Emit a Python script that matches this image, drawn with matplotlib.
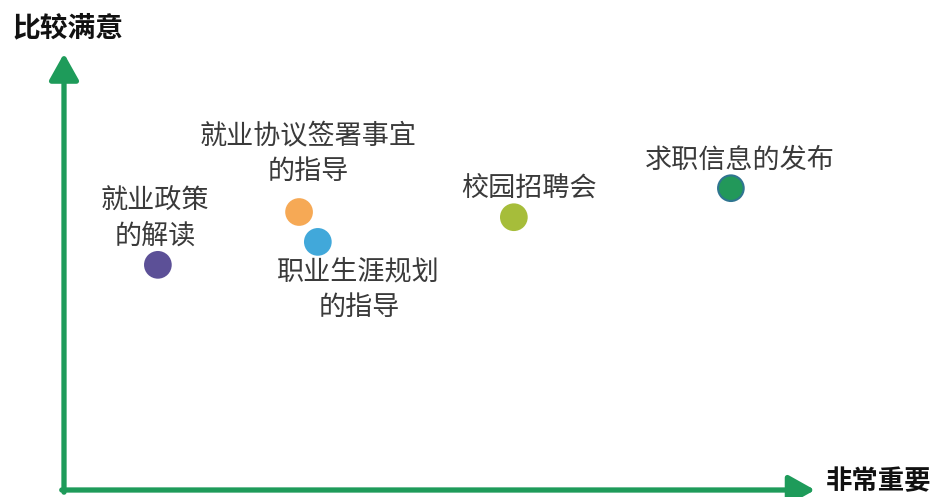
import matplotlib.pyplot as plt

plt.rcParams['font.family'] = ['Noto Sans CJK SC', 'DejaVu Sans']

# Data (importance on x, satisfaction on y, arbitrary 0-10 scale)
labels = ["就业政策\n的解读", "就业协议签署事宜\n的指导", "职业生涯规划\n的指导",
          "校园招聘会", "求职信息的发布"]
importance = [1.25, 3.13, 3.38, 5.99, 8.88]
satisfaction = [5.20, 6.42, 5.73, 6.30, 6.97]

colors = ["#5C5097", "#F6A955", "#41A8DA", "#A6BD3A", "#22985A"]
edges = ["#5C5097", "#F6A955", "#41A8DA", "#A6BD3A", "#2F7590"]
# label offsets from each point, in pixels
offsets = [(-3, 46), (9, 58), (41, -48), (15, 29), (9, 28)]

fig = plt.figure(figsize=(9.42, 4.97), dpi=100)
ax = fig.add_axes([64 / 942, 7 / 497, 751 / 942, 433 / 497])
ax.set_xlim(0, 10)
ax.set_ylim(0, 10)
ax.axis("off")

green = "#1E9B5A"
ax.annotate("", xy=(0, 1.008), xytext=(0, -0.005), xycoords="axes fraction",
            arrowprops=dict(arrowstyle="-|>,head_length=0.5,head_width=0.28",
                            color=green, lw=3.8, mutation_scale=32,
                            shrinkA=0, shrinkB=0), annotation_clip=False)
ax.annotate("", xy=(1, 0), xytext=(-0.003, 0), xycoords="axes fraction",
            arrowprops=dict(arrowstyle="-|>,head_length=0.5,head_width=0.28",
                            color=green, lw=3.8, mutation_scale=32,
                            shrinkA=0, shrinkB=0), annotation_clip=False)

ax.scatter(importance, satisfaction, s=340, c=colors, edgecolors=edges,
           linewidths=1.5, zorder=3, clip_on=False)

for lab, x, y, (dx, dy) in zip(labels, importance, satisfaction, offsets):
    ax.annotate(lab, xy=(x, y), xytext=(dx, dy), textcoords="offset pixels",
                ha="center", va="center", fontsize=19.5, color="#3a3a3a",
                linespacing=1.4)

fig.text(68 / 942, 1 - 28 / 497, "比较满意", ha="center", va="center",
         fontsize=20, fontweight="bold", color="#111111")
fig.text(826 / 942, 1 - 482 / 497, "非常重要", ha="left", va="center",
         fontsize=19, fontweight="bold", color="#111111")

fig.savefig("out.png", dpi=100)
